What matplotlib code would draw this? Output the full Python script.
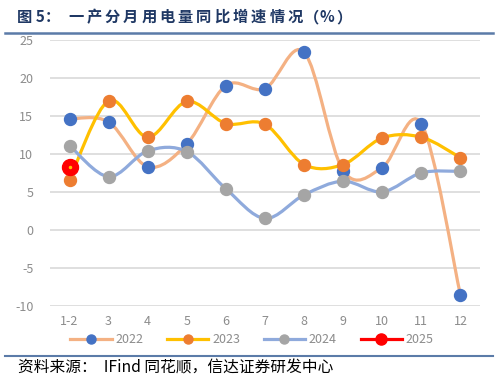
import numpy as np
import matplotlib
matplotlib.use('Agg')
import matplotlib.pyplot as plt
from matplotlib.path import Path
from matplotlib.patches import PathPatch
from matplotlib.lines import Line2D

plt.rcParams['font.family'] = ['Noto Sans CJK SC', 'DejaVu Sans']
plt.rcParams['axes.unicode_minus'] = False

# dane
miesiace = ['1-2', '3', '4', '5', '6', '7', '8', '9', '10', '11', '12']
r2022 = [14.6, 14.2, 8.3, 11.3, 19.0, 18.6, 23.4, 7.8, 8.2, 14.0, -8.6]
r2023 = [6.6, 17.0, 12.2, 16.9, 14.0, 13.9, 8.6, 8.6, 12.1, 12.2, 9.5]
r2024 = [11.1, 7.0, 10.4, 10.3, 5.4, 1.5, 4.6, 6.4, 5.0, 7.5, 7.7]
r2025 = [8.3]
lata = ['2022', '2023', '2024', '2025']

kolory_linii = ['#F4B183', '#FFC000', '#8FAADC', '#FF0000']
kolory_znacz = ['#4472C4', '#ED7D31', '#A5A5A5', '#FF0000']

W, H = 499, 381


def gladka(x, y):
    # krzywa Beziera w stylu Excela (wygladzona linia)
    x = np.asarray(x, float)
    y = np.asarray(y, float)
    n = len(x)
    verts = [(x[0], y[0])]
    codes = [Path.MOVETO]
    for i in range(n - 1):
        x0, y0 = (x[i - 1], y[i - 1]) if i > 0 else (x[i], y[i])
        x3, y3 = (x[i + 2], y[i + 2]) if i + 2 < n else (x[i + 1], y[i + 1])
        c1 = (x[i] + (x[i + 1] - x0) / 6, y[i] + (y[i + 1] - y0) / 6)
        c2 = (x[i + 1] - (x3 - x[i]) / 6, y[i + 1] - (y3 - y[i]) / 6)
        verts += [c1, c2, (x[i + 1], y[i + 1])]
        codes += [Path.CURVE4] * 3
    return Path(verts, codes)


fig = plt.figure(figsize=(W / 100, H / 100), dpi=100)
ax = fig.add_axes([0.1002, 0.1976, 0.8617, 0.6974])

x = np.arange(len(miesiace))
serie = [r2022, r2023, r2024, r2025]
for k, s in enumerate(serie):
    xs = x[:len(s)]
    if len(s) > 1:
        ax.add_patch(PathPatch(gladka(xs, s), facecolor='none', edgecolor=kolory_linii[k],
                               lw=2.3, zorder=3 + k * 2, capstyle='round'))
    if k == 3:
        ax.plot(xs, s, 'o', color='#FF0000', ms=11.5, zorder=4 + k * 2, mec='#FF0000')
        ax.plot(xs, s, 'o', color='#FFC000', ms=1.5, zorder=5 + k * 2)
    else:
        ax.plot(xs, s, 'o', color=kolory_znacz[k], ms=8.6, zorder=4 + k * 2, mec=kolory_znacz[k])

ax.set_xlim(-0.5, len(miesiace) - 0.5)
ax.set_ylim(-10, 25)
ax.set_yticks(range(-10, 26, 5))
ax.set_xticks(x)
ax.set_xticklabels(miesiace)
ax.yaxis.grid(True, color='#D9D9D9', lw=1.2)
ax.set_axisbelow(True)
for sp in ax.spines.values():
    sp.set_visible(False)
ax.tick_params(length=0, labelsize=9, colors='#8C8C8C', labelcolor='#8C8C8C')
ax.tick_params(axis='y', pad=12)
ax.tick_params(axis='x', pad=7)

uchwyty = []
for k in range(4):
    if k == 3:
        uchwyty.append(Line2D([], [], color='#FF0000', lw=2.3, marker='o', ms=8,
                              mfc='#FF0000', mec='#FF0000'))
    else:
        uchwyty.append(Line2D([], [], color=kolory_linii[k], lw=2.3, marker='o', ms=6.5,
                              mfc=kolory_znacz[k], mec=kolory_znacz[k]))
fig.legend(uchwyty, lata, loc='center', bbox_to_anchor=(0.505, 0.108), ncol=4,
           frameon=False, fontsize=9, labelcolor='#8C8C8C', handlelength=3.3,
           columnspacing=1.9, handletextpad=0.3)

# tytul z rozstrzelonymi znakami
ty = 1 - 17 / H
styl = dict(fontsize=11, fontweight='bold', color='#1F3864', va='center', ha='left')
fig.text(17 / W, ty, '图 5：', **styl)
for i, ch in enumerate('一产分月用电量同比增速情况'):
    fig.text((68 + i * 18.3) / W, ty, ch, **styl)
fig.text(303.5 / W, ty, '（', **styl)
fig.text(320 / W, ty, '%', **styl)
fig.text(336 / W, ty, '）', **styl)

fig.add_artist(Line2D([0.01, 0.988], [0.913, 0.913], color='#5B7BA8', lw=1.8))
fig.add_artist(Line2D([0.01, 0.988], [0.066, 0.066], color='#5B7BA8', lw=1.5))
fig.text(0.036, 0.035, '资料来源：  IFind 同花顺，信达证券研发中心', fontsize=11.3,
         style='italic', color='black', va='center', ha='left')

fig.savefig('out.png', dpi=100)
